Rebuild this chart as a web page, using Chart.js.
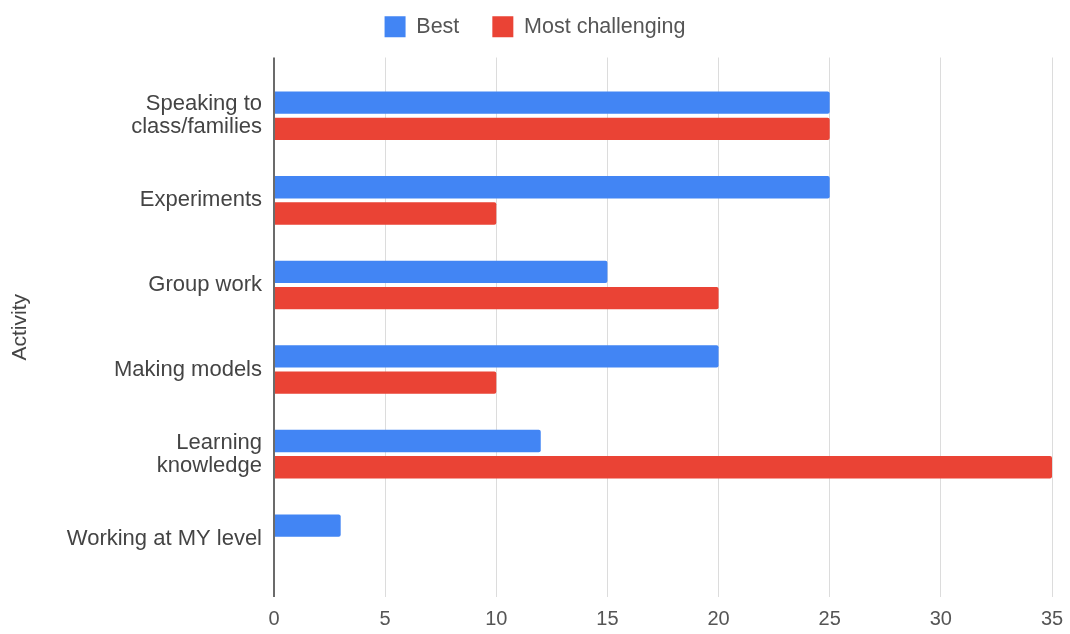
<!DOCTYPE html>
<html>
<head>
<meta charset="utf-8">
<title>Activity chart</title>
<script src="https://cdn.jsdelivr.net/npm/chart.js@4/dist/chart.umd.min.js"></script>
<style>
    html, body { margin: 0; padding: 0; background: #ffffff; }
    #wrap { width: 1070px; height: 634px; }
</style>
</head>
<body>
<div id="wrap"><canvas id="activityChart"></canvas></div>
<script>
// Chart data
const activities = [
    ['Speaking to', 'class/families'],
    'Experiments',
    'Group work',
    'Making models',
    ['Learning', 'knowledge'],
    'Working at MY level'
];
const bestValues = [25, 25, 15, 20, 12, 3];
const challengingValues = [25, 10, 20, 10, 35, 0];
const seriesNames = ['Best', 'Most challenging'];
const xTicks = [0, 5, 10, 15, 20, 25, 30, 35];

const FONT = "Arial, 'Liberation Sans', sans-serif";

// zero line is darker than the other grid lines
const gridColor = ctx => (ctx.tick && ctx.tick.value === 0) ? '#6b6b6b' : '#dcdcdc';
const gridWidth = ctx => (ctx.tick && ctx.tick.value === 0) ? 2 : 1;

// a bit more room under the legend, without moving its items
const legendGap = {
    id: 'legendGap',
    beforeInit(chart) {
        const origFit = chart.legend.fit;
        chart.legend.fit = function () {
            origFit.bind(chart.legend)();
            this.height += 10;
        };
    }
};

const ctx = document.getElementById('activityChart').getContext('2d');

new Chart(ctx, {
    type: 'bar',
    data: {
        labels: activities,
        datasets: [{
            label: seriesNames[0],
            data: bestValues,
            backgroundColor: '#4285f4',
            borderRadius: 2,
            categoryPercentage: 0.62,
            barPercentage: 0.85
        },
        {
            label: seriesNames[1],
            data: challengingValues,
            backgroundColor: '#ea4335',
            borderRadius: 2,
            categoryPercentage: 0.62,
            barPercentage: 0.85
        }]
    },
    options: {
        indexAxis: 'y',
        responsive: true,
        maintainAspectRatio: false,
        animation: false,
        layout: {
            padding: { top: -17, right: 0, bottom: -7, left: 0 }
        },
        scales: {
            x: {
                type: 'linear',
                min: xTicks[0],
                max: xTicks[xTicks.length - 1],
                afterBuildTicks: scale => { scale.ticks = xTicks.map(v => ({ value: v })); },
                afterFit: scale => { scale.paddingRight = 18; },
                border: { display: false },
                grid: {
                    color: gridColor,
                    lineWidth: gridWidth,
                    drawTicks: true,
                    tickLength: 16
                },
                ticks: {
                    color: '#555555',
                    padding: 10,
                    font: { family: FONT, size: 20 }
                }
            },
            xTop: {
                type: 'linear',
                position: 'top',
                min: xTicks[0],
                max: xTicks[xTicks.length - 1],
                afterBuildTicks: scale => { scale.ticks = xTicks.map(v => ({ value: v })); },
                afterFit: scale => { scale.paddingRight = 18; },
                border: { display: false },
                grid: {
                    color: gridColor,
                    lineWidth: gridWidth,
                    drawOnChartArea: false,
                    drawTicks: true,
                    tickLength: 16
                },
                ticks: { display: false }
            },
            y: {
                border: { display: false },
                grid: { display: false, drawTicks: false },
                afterFit: scale => { scale.width = 274; },
                ticks: {
                    color: '#444444',
                    padding: 12,
                    font: { family: FONT, size: 22, lineHeight: 1.05 }
                },
                title: {
                    display: true,
                    text: 'Activity',
                    color: '#444444',
                    padding: { top: 8, bottom: 0 },
                    font: { family: FONT, size: 21 }
                }
            }
        },
        plugins: {
            legend: {
                position: 'top',
                labels: {
                    boxWidth: 21,
                    boxHeight: 21,
                    padding: 33,
                    color: '#555555',
                    font: { family: FONT, size: 21.5 }
                }
            },
            tooltip: { enabled: false }
        }
    },
    plugins: [legendGap]
});
</script>
</body>
</html>
